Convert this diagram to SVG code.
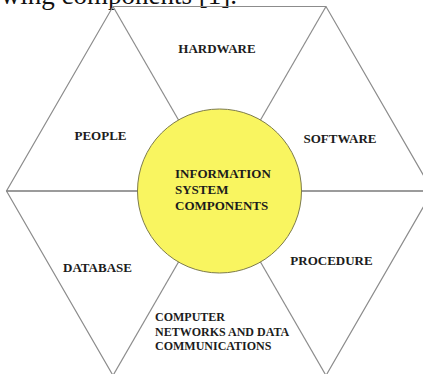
<svg xmlns="http://www.w3.org/2000/svg" width="423" height="374" viewBox="0 0 423 374">
  <style>
    .edge { stroke: #8c8c8c; stroke-width: 1.2; fill: none; }
    .axis { stroke: #7a7a7a; stroke-width: 1.6; fill: none; }
    .lbl { font-family: "Liberation Serif", "Times New Roman", serif; font-weight: bold; font-size: 13px; fill: #1c1c1c; }
    .small { font-size: 12px; }
    .caption { font-family: "Liberation Serif", "Times New Roman", serif; font-size: 27px; fill: #111; }
  </style>
  <rect width="423" height="374" fill="#ffffff"/>

  <!-- running text above the figure -->
  <text class="caption" x="237" y="4" text-anchor="end">following components [1].</text>

  <!-- hexagonal frame -->
  <g id="frame">
    <polygon class="edge" points="113,6.5 326,6.5 432.5,191 326,375.5 113,375.5 6.5,191"/>
  </g>

  <!-- spokes from the hub to each corner -->
  <g id="connectors">
    <line class="axis" x1="6.5" y1="191" x2="432.5" y2="191"/>
    <line class="edge" x1="219.5" y1="191" x2="113" y2="6.5"/>
    <line class="edge" x1="219.5" y1="191" x2="326" y2="6.5"/>
    <line class="edge" x1="219.5" y1="191" x2="326" y2="375.5"/>
    <line class="edge" x1="219.5" y1="191" x2="113" y2="375.5"/>
  </g>

  <g id="hub">
    <circle cx="219.5" cy="191" r="82" fill="#f9f560" stroke="#7d7b4c" stroke-width="1"/>
    <text class="lbl" x="175" y="178">INFORMATION</text>
    <text class="lbl" x="175" y="194">SYSTEM</text>
    <text class="lbl" x="175" y="210">COMPONENTS</text>
  </g>

  <g id="hardware">
    <text class="lbl" x="217" y="53" text-anchor="middle">HARDWARE</text>
  </g>
  <g id="people">
    <text class="lbl" x="100.5" y="140" text-anchor="middle">PEOPLE</text>
  </g>
  <g id="software">
    <text class="lbl" x="340" y="142.5" text-anchor="middle">SOFTWARE</text>
  </g>
  <g id="database">
    <text class="lbl" x="97.5" y="272" text-anchor="middle">DATABASE</text>
  </g>
  <g id="procedure">
    <text class="lbl" x="331.5" y="265" text-anchor="middle">PROCEDURE</text>
  </g>
  <g id="networks">
    <text class="lbl small" x="155" y="321">COMPUTER</text>
    <text class="lbl small" x="155" y="336">NETWORKS AND DATA</text>
    <text class="lbl small" x="155" y="350">COMMUNICATIONS</text>
  </g>
</svg>
